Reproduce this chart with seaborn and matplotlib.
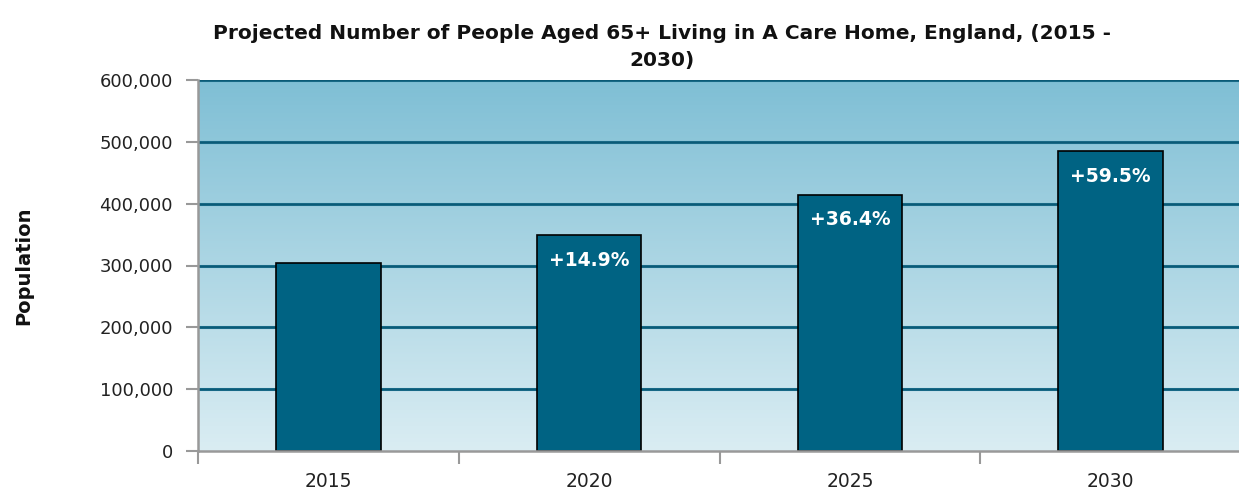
import numpy as np
import pandas as pd
import matplotlib
matplotlib.use("Agg")
import matplotlib.pyplot as plt
from matplotlib.ticker import FuncFormatter, FixedLocator
from matplotlib.colors import LinearSegmentedColormap
import seaborn as sns

years = ["2015", "2020", "2025", "2030"]
population = [304000, 349300, 414700, 484900]
change_labels = ["", "+14.9%", "+36.4%", "+59.5%"]
y_ticks = [0, 100000, 200000, 300000, 400000, 500000, 600000]

df = pd.DataFrame({"Year": years, "Population": population})

sns.set_theme(style="white")
plt.rcParams["font.family"] = ["DejaVu Sans"]

fig = plt.figure(figsize=(12.39, 4.92), dpi=100)
ax = fig.add_axes([198 / 1239, 41 / 492, 1043 / 1239, 371 / 492])

# gradient background
cmap = LinearSegmentedColormap.from_list("bg", ["#daedf3", "#7fbfd5"])
grad = np.linspace(0, 1, 256).reshape(-1, 1)
ax.imshow(grad, aspect="auto", cmap=cmap, origin="lower",
          extent=(-0.5, 3.5, 0, 600000), zorder=0)

# gridlines
for v in y_ticks[1:]:
    ax.axhline(v, color="#1b6d8a", lw=2.2, zorder=1)
    ax.axhline(v, color="#0b5a76", lw=1.0, zorder=1)

sns.barplot(data=df, x="Year", y="Population", color="#006383", width=0.4,
            edgecolor="black", linewidth=1.2, saturation=1, ax=ax, zorder=2)

for i, (val, lab) in enumerate(zip(population, change_labels)):
    if lab:
        ax.text(i, val - 41000, lab, ha="center", va="center", color="white",
                fontsize=13.5, fontweight="bold", zorder=3)

ax.set_xlim(-0.5, 3.5)
ax.set_ylim(0, 600000)
ax.yaxis.set_major_locator(FixedLocator(y_ticks))
ax.yaxis.set_major_formatter(FuncFormatter(lambda v, p: f"{int(v):,}"))
ax.xaxis.set_minor_locator(FixedLocator([-0.5, 0.5, 1.5, 2.5, 3.5]))
ax.tick_params(axis="x", which="major", length=0, pad=15, labelsize=13.5, colors="#222222")
ax.tick_params(axis="x", which="minor", length=9, width=1.5, color="#999999", bottom=True)
ax.tick_params(axis="y", length=9, width=1.5, color="#999999", left=True, labelsize=13,
               labelcolor="#222222", pad=9)

for s in ["top", "right"]:
    ax.spines[s].set_visible(False)
for s in ["left", "bottom"]:
    ax.spines[s].set_color("#999999")
    ax.spines[s].set_linewidth(1.8)
    ax.spines[s].set_zorder(4)

ax.set_xlabel("")
ax.set_ylabel("Population", fontsize=14, fontweight="bold", labelpad=48, color="#111111")
ax.set_title("Projected Number of People Aged 65+ Living in A Care Home, England, (2015 -\n2030)",
             fontsize=14.5, fontweight="bold", color="#111111", pad=10, x=0.445, linespacing=1.55)

fig.savefig("out.png", dpi=100)
